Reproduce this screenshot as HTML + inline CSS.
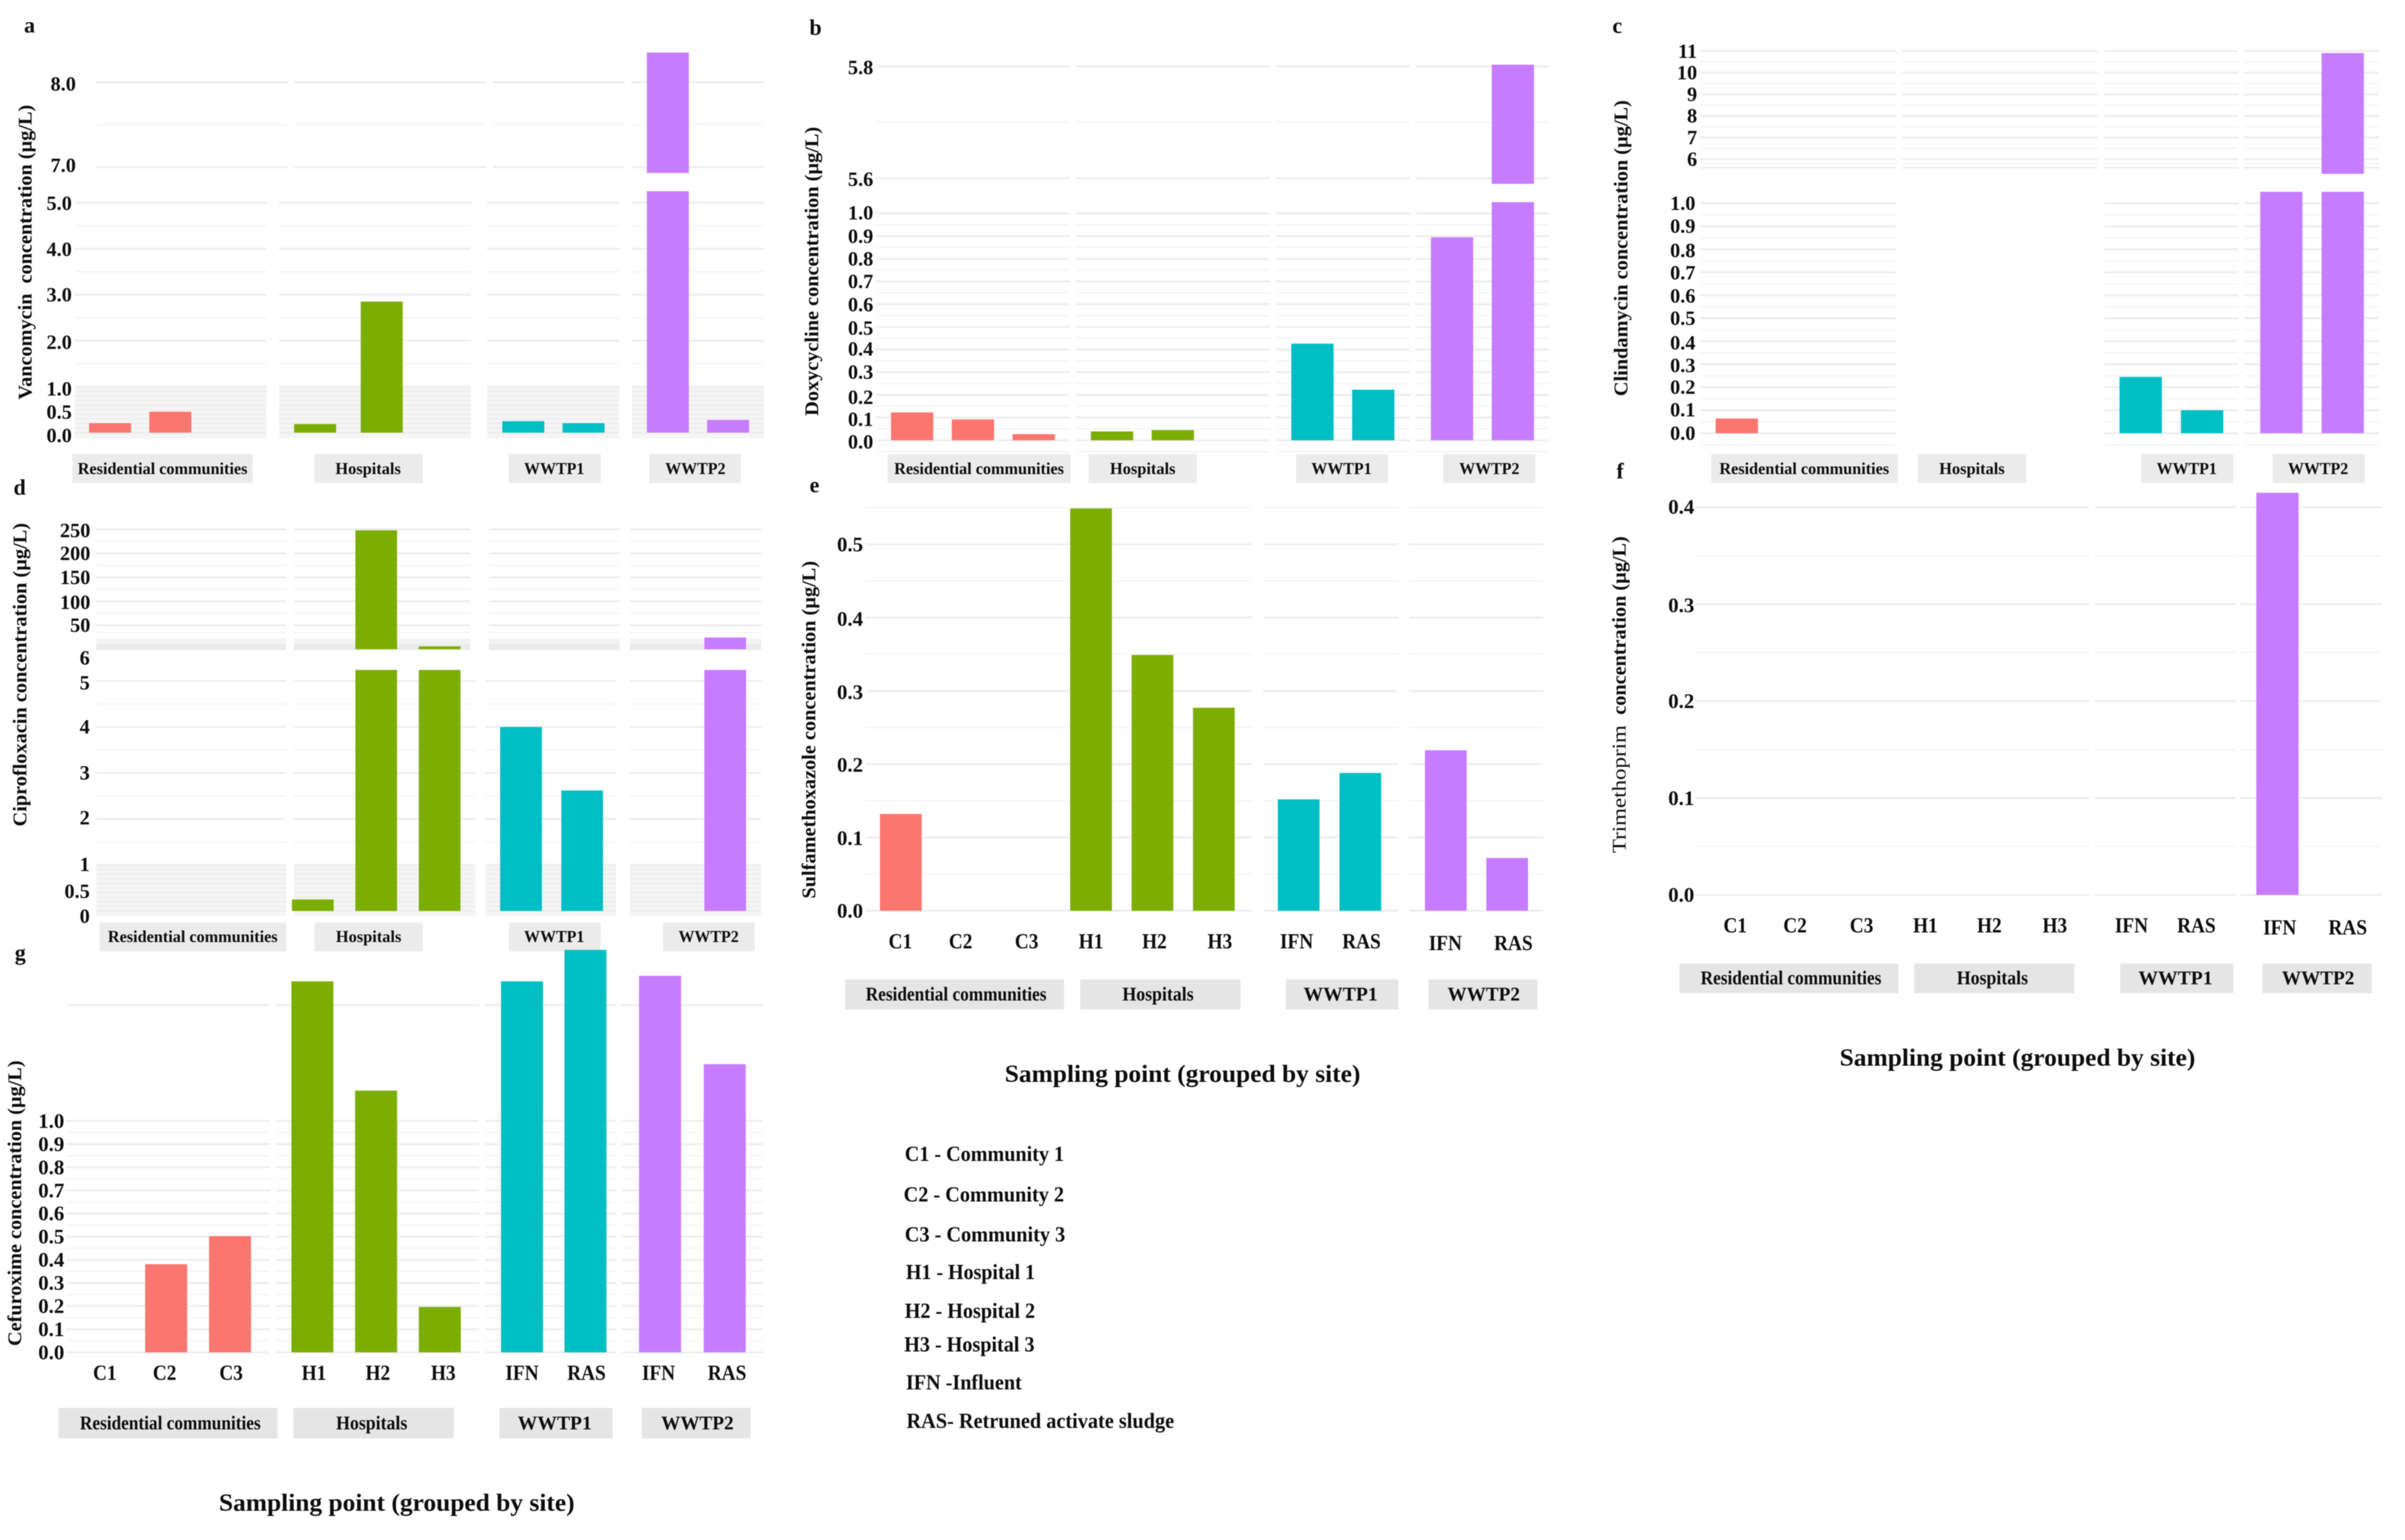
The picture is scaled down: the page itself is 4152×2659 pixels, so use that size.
<!DOCTYPE html>
<html lang="en">
<head>
<meta charset="utf-8">
<title>Antibiotic concentrations by sampling point</title>
<style>
html,body{margin:0;padding:0;background:#fff;width:4152px;height:2659px;overflow:hidden}
svg{display:block;filter:blur(0.7px)}
text{font-family:"Liberation Serif","Noto Serif CJK SC",serif;font-weight:bold;fill:#0d0d0d}
</style>
</head>
<body>
<svg id="fig" xmlns="http://www.w3.org/2000/svg" width="4152" height="2659" viewBox="0 0 4152 2659">
  <rect x="0" y="0" width="4152" height="2659" fill="#ffffff"/>

  <g font-size="38">
    <text x="51" y="44" text-anchor="middle" dominant-baseline="central">a</text>
    <text x="1408" y="48" text-anchor="middle" dominant-baseline="central">b</text>
    <text x="2792" y="45" text-anchor="middle" dominant-baseline="central">c</text>
    <text x="34" y="842" text-anchor="middle" dominant-baseline="central">d</text>
    <text x="1406" y="838" text-anchor="middle" dominant-baseline="central">e</text>
    <text x="2797" y="814" text-anchor="middle" dominant-baseline="central">f</text>
    <text x="35" y="1646" text-anchor="middle" dominant-baseline="central">g</text>
  </g>

  <g id="panels"></g>

  <g font-size="34">
    <text transform="translate(44,435.5) rotate(-90)" text-anchor="middle" dominant-baseline="central" textLength="509" lengthAdjust="spacingAndGlyphs">Vancomycin&#160;&#160;concentration (µg/L)</text>
    <text transform="translate(1402,468.5) rotate(-90)" text-anchor="middle" dominant-baseline="central" textLength="499" lengthAdjust="spacingAndGlyphs">Doxycycline concentration (µg/L)</text>
    <text transform="translate(2799,428.5) rotate(-90)" text-anchor="middle" dominant-baseline="central" textLength="511" lengthAdjust="spacingAndGlyphs">Clindamycin concentration (µg/L)</text>
    <text transform="translate(35,1165) rotate(-90)" text-anchor="middle" dominant-baseline="central" textLength="524" lengthAdjust="spacingAndGlyphs">Ciprofloxacin concentration (µg/L)</text>
    <text transform="translate(1397,1260) rotate(-90)" text-anchor="middle" dominant-baseline="central" textLength="583" lengthAdjust="spacingAndGlyphs">Sulfamethoxazole concentration (µg/L)</text>
    <text transform="translate(2796,1362.5) rotate(-90)" text-anchor="middle" dominant-baseline="central" textLength="221" lengthAdjust="spacingAndGlyphs" style="font-weight:normal">Trimethoprim</text>
    <text transform="translate(2796,1080) rotate(-90)" text-anchor="middle" dominant-baseline="central" textLength="308" lengthAdjust="spacingAndGlyphs">concentration (µg/L)</text>
    <text transform="translate(26,2077.5) rotate(-90)" text-anchor="middle" dominant-baseline="central" textLength="493" lengthAdjust="spacingAndGlyphs">Cefuroxime concentration (µg/L)</text>
  </g>

  <g font-size="42">
    <text x="2041.6" y="1855" text-anchor="middle" dominant-baseline="central" textLength="614" lengthAdjust="spacingAndGlyphs">Sampling point (grouped by site)</text>
    <text x="3483" y="1827" text-anchor="middle" dominant-baseline="central" textLength="614" lengthAdjust="spacingAndGlyphs">Sampling point (grouped by site)</text>
    <text x="685" y="2595.5" text-anchor="middle" dominant-baseline="central" textLength="614" lengthAdjust="spacingAndGlyphs">Sampling point (grouped by site)</text>
  </g>

  <g font-size="37">
    <text x="1562" y="1993" dominant-baseline="central" textLength="275" lengthAdjust="spacingAndGlyphs">C1 - Community 1</text>
    <text x="1560" y="2063" dominant-baseline="central" textLength="277" lengthAdjust="spacingAndGlyphs">C2 - Community 2</text>
    <text x="1562" y="2132" dominant-baseline="central" textLength="277" lengthAdjust="spacingAndGlyphs">C3 - Community 3</text>
    <text x="1564" y="2197" dominant-baseline="central" textLength="223" lengthAdjust="spacingAndGlyphs">H1 - Hospital 1</text>
    <text x="1562" y="2264" dominant-baseline="central" textLength="225" lengthAdjust="spacingAndGlyphs">H2 - Hospital 2</text>
    <text x="1561" y="2322" dominant-baseline="central" textLength="225" lengthAdjust="spacingAndGlyphs">H3 - Hospital 3</text>
    <text x="1564" y="2387.5" dominant-baseline="central" textLength="200" lengthAdjust="spacingAndGlyphs">IFN -Influent</text>
    <text x="1565" y="2454" dominant-baseline="central" textLength="462" lengthAdjust="spacingAndGlyphs">RAS- Retruned activate sludge</text>
  </g>
</svg>

<script>
// ---------- shared categories ----------
const stripLabels = ["Residential communities", "Hospitals", "WWTP1", "WWTP2"];
const categoryLabels = [["C1", "C2", "C3"], ["H1", "H2", "H3"], ["IFN", "RAS"], ["IFN", "RAS"]];
const siteColors = ["#fb766f", "#7cae00", "#00bfc4", "#c77cff"];

// ---------- series values (one inner array per site) ----------
const vancomycinValues = [[0.207, 0.455, 0], [0.186, 2.85, 0], [0.25, 0.207], [8.35, 0.276]];
const doxycyclineValues = [[0.123, 0.092, 0.027], [0.039, 0.045, 0], [0.426, 0.223], [0.895, 5.803]];
const clindamycinValues = [[0.064, 0, 0], [0, 0, 0], [0.245, 0.1], [1.5, 10.91]];
const ciprofloxacinValues = [[0, 0, 0], [0.25, 248, 6], [4.0, 2.62], [0, 24.5]];
const sulfamethoxazoleValues = [[0.132, 0, 0], [0.549, 0.349, 0.277], [0.152, 0.188], [0.219, 0.072]];
const trimethoprimValues = [[0, 0, 0], [0, 0, 0], [0, 0], [0.415, 0]];
const cefuroximeValues = [[0, 0.381, 0.502], [1.603, 1.131, 0.196], [1.603, 1.739], [1.627, 1.245]];

// ---------- tick values and labels ----------
const vancomycinUpperTicks = [7, 8];
const vancomycinUpperLabels = ["7.0", "8.0"];
const vancomycinLowerTicks = [0, 0.5, 1, 2, 3, 4, 5];
const vancomycinLowerLabels = ["0.0", "0.5", "1.0", "2.0", "3.0", "4.0", "5.0"];
const doxycyclineUpperTicks = [5.6, 5.8];
const doxycyclineUpperLabels = ["5.6", "5.8"];
const tenthTicks = [0, 0.1, 0.2, 0.3, 0.4, 0.5, 0.6, 0.7, 0.8, 0.9, 1];
const tenthLabels = ["0.0", "0.1", "0.2", "0.3", "0.4", "0.5", "0.6", "0.7", "0.8", "0.9", "1.0"];
const clindamycinUpperTicks = [6, 7, 8, 9, 10, 11];
const clindamycinUpperLabels = ["6", "7", "8", "9", "10", "11"];
const ciprofloxacinUpperTicks = [50, 100, 150, 200, 250];
const ciprofloxacinUpperLabels = ["50", "100", "150", "200", "250"];
const ciprofloxacinLowerTicks = [0, 0.5, 1, 2, 3, 4, 5, 5.5];
const ciprofloxacinLowerLabels = ["0", "0.5", "1", "2", "3", "4", "5", "6"];
const sulfamethoxazoleTicks = [0, 0.1, 0.2, 0.3, 0.4, 0.5];
const sulfamethoxazoleLabels = ["0.0", "0.1", "0.2", "0.3", "0.4", "0.5"];
const trimethoprimTicks = [0, 0.1, 0.2, 0.3, 0.4];
const trimethoprimLabels = ["0.0", "0.1", "0.2", "0.3", "0.4"];

// ---------- helpers ----------
const NS = "http://www.w3.org/2000/svg";
function el(tag, attrs, parent) {
  const n = document.createElementNS(NS, tag);
  for (const k in attrs) n.setAttribute(k, attrs[k]);
  parent.appendChild(n);
  return n;
}
function steps(from, to, step) {
  const out = [];
  const count = Math.round((to - from) / step);
  for (let i = 0; i <= count; i++) out.push(+(from + i * step).toFixed(4));
  return out;
}
function linearScale(domain, range) {
  const k = (range[1] - range[0]) / (domain[1] - domain[0]);
  return function (v) { return range[0] + (v - domain[0]) * k; };
}

const MAJOR = "#ededed";
const MINOR = "#f3f3f3";
const root = document.getElementById("panels");

function drawSegment(g, panel, seg, values) {
  const y = linearScale(seg.domain, seg.range);

  (seg.bands || []).forEach(function (b) {
    seg.facets.forEach(function (f) {
      const band = el("rect", { x: f[0], y: b.top, width: f[1] - f[0], height: b.bottom - b.top, fill: b.fill }, g);
      
      
    });
  });

  seg.facets.forEach(function (f) {
    (seg.fine || []).forEach(function (v) {
      const line = el("line", { x1: f[0], x2: f[1], y1: y(v), y2: y(v), stroke: "#ebebeb", "stroke-width": 2 }, g);
      
      
    });
    seg.minor.forEach(function (v) {
      const line = el("line", { x1: f[0], x2: f[1], y1: y(v), y2: y(v), stroke: MINOR, "stroke-width": 2.2 }, g);
      
      
    });
    seg.major.forEach(function (v) {
      const line = el("line", { x1: f[0], x2: f[1], y1: y(v), y2: y(v), stroke: MAJOR, "stroke-width": 3.4 }, g);
      
      
    });
  });

  values.forEach(function (group, f) {
    group.forEach(function (v, i) {
      if (!(v > seg.clip[0])) return;
      const top = y(Math.min(v, seg.clip[1]));
      const bottom = seg.base !== undefined ? seg.base : y(seg.clip[0]);
      const cx = panel.barStart[f] + i * panel.barStep[f];
      const bar = el("rect", {
        x: cx - panel.barWidth / 2, y: top,
        width: panel.barWidth, height: Math.max(0, bottom - top),
        fill: siteColors[f]
      }, g);
      
      
    });
  });

  seg.ticks.forEach(function (v, i) {
    const shift = seg.labelNudge ? seg.labelNudge[i] : 0;
    const t = el("text", {
      x: seg.labelRight, y: y(v) + shift, "text-anchor": "end",
      "dominant-baseline": "central", "font-size": panel.tickFont
    }, g);
    t.textContent = seg.labels[i];
    
    
  });
}

function drawPanel(panel, values) {
  const g = el("g", {}, root);
  
  

  panel.segments.forEach(function (seg) { drawSegment(g, panel, seg, values); });

  panel.strips.forEach(function (s, i) {
    const box = el("rect", { x: s.left, y: s.top, width: s.right - s.left, height: s.bottom - s.top, fill: panel.stripFill }, g);
    
    
    const label = el("text", {
      x: s.center, y: panel.stripTextY, "text-anchor": "middle", "dominant-baseline": "central",
      "font-size": panel.stripFont, textLength: panel.stripTextWidths[i], lengthAdjust: "spacingAndGlyphs"
    }, g);
    label.textContent = stripLabels[i];
    
    
  });

  if (panel.xLabelX) {
    let n = 0;
    categoryLabels.forEach(function (group, f) {
      group.forEach(function (c) {
        const t = el("text", {
          x: panel.xLabelX[n], y: panel.xLabelY[f], "text-anchor": "middle",
          "dominant-baseline": "central", "font-size": 37
        }, g);
        t.textContent = c;
        
        
        t.setAttribute("textLength", (t.getComputedTextLength() * 0.9).toFixed(1));
        t.setAttribute("lengthAdjust", "spacingAndGlyphs");
        n++;
      });
    });
  }
}

function stripRow(top, bottom, lefts, rights, centers) {
  return lefts.map(function (l, i) {
    return { left: l, right: rights[i], top: top, bottom: bottom, center: centers[i] };
  });
}
const topStripWidths = [293, 113, 104, 104];
const wideStripWidths = [312, 123, 128, 125];

// ---------- panel a ----------
drawPanel({
  name: "panel-a-vancomycin", barWidth: 72.5, tickFont: 35,
  barStart: [190, 544, 903.4, 1153], barStep: [104, 115, 104, 104],
  stripFill: "#ebebeb", stripTextY: 810, stripFont: 28, stripTextWidths: topStripWidths,
  strips: stripRow(784, 834, [125, 543, 878, 1121], [436, 730, 1037, 1279], [280.7, 635.5, 956.8, 1200.5]),
  segments: [
    { domain: [0, 5], range: [747, 350], clip: [0, 5.25], labelRight: 124,
      labelNudge: [5, 4, 4, 3, 0, 1, 1],
      facets: [[129, 460], [482, 813], [841, 1069], [1091, 1319]],
      bands: [{ top: 667, bottom: 757, fill: "#f5f5f5" }],
      fine: steps(0.1, 0.9, 0.1),
      major: [0, 1, 2, 3, 4, 5], minor: [1.5, 2.5, 3.5, 4.5],
      ticks: vancomycinLowerTicks, labels: vancomycinLowerLabels },
    { domain: [7, 8], range: [288.5, 142], clip: [6.93, 8.6], labelRight: 131,
      labelNudge: [-3, 3],
      facets: [[166, 497], [508, 839], [851, 1078], [1091, 1319]],
      major: [7, 8], minor: [7.5],
      ticks: vancomycinUpperTicks, labels: vancomycinUpperLabels }
  ]
}, vancomycinValues);

// ---------- panel b ----------
drawPanel({
  name: "panel-b-doxycycline", barWidth: 73, tickFont: 35,
  barStart: [1574.7, 1919.8, 2265.8, 2506.8], barStep: [105, 105, 105, 105],
  stripFill: "#ebebeb", stripTextY: 810, stripFont: 28, stripTextWidths: topStripWidths,
  strips: stripRow(784, 834, [1532.3, 1879.2, 2237.6, 2491.8], [1848.3, 2066.3, 2396.4, 2650.7], [1690.3, 1972.8, 2316, 2571.2]),
  segments: [
    { domain: [0, 1], range: [760.2, 368.6], clip: [0, 1.05], labelRight: 1507.6,
      labelNudge: [3, 3, 4, 0, -1, 2, 1, 0, 0, 0, -1],
      facets: [[1512, 1846.5], [1857, 2192.5], [2203, 2434.4], [2444, 2674.5]],
      major: steps(0, 1, 0.1), minor: steps(-0.05, 0.95, 0.1),
      ticks: tenthTicks, labels: tenthLabels },
    { domain: [5.6, 5.8], range: [307.7, 114.6], clip: [5.59, 5.9], labelRight: 1507.6,
      labelNudge: [2, 2],
      facets: [[1512, 1846.5], [1857, 2192.5], [2203, 2434.4], [2444, 2674.5]],
      major: [5.6, 5.8], minor: [5.7],
      ticks: doxycyclineUpperTicks, labels: doxycyclineUpperLabels }
  ]
}, doxycyclineValues);

// ---------- panel c ----------
drawPanel({
  name: "panel-c-clindamycin", barWidth: 73, tickFont: 35,
  barStart: [2998.4, 3350, 3695.7, 3938.5], barStep: [106.8, 106, 106, 106],
  stripFill: "#ebebeb", stripTextY: 810, stripFont: 28, stripTextWidths: topStripWidths,
  strips: stripRow(784, 834, [2954.2, 3310.9, 3696.6, 3923.5], [3276.4, 3498, 3855.5, 4082.3], [3114.9, 3404.4, 3775.2, 4002]),
  segments: [
    { domain: [0, 1], range: [748, 351], clip: [0, 1.05], labelRight: 2927,
      labelNudge: [0, -1, 0, 2, 3, 0, 1, 1, 2, 0, 0],
      facets: [[2935.7, 3273], [3633, 3864.3], [3875, 4107]],
      major: steps(0, 1, 0.1), minor: steps(-0.05, 0.95, 0.1),
      ticks: tenthTicks, labels: tenthLabels },
    { domain: [6, 11], range: [274.8, 88.3], clip: [5.32, 12], labelRight: 2930,
      facets: [[2935.7, 3273], [3283.5, 3621.6], [3633, 3864.3], [3875, 4107]],
      major: [5.6, 6, 7, 8, 9, 10, 11], minor: [5.8, 6.5, 7.5, 8.5, 9.5, 10.5],
      ticks: clindamycinUpperTicks, labels: clindamycinUpperLabels }
  ]
}, clindamycinValues);

// ---------- panel d ----------
drawPanel({
  name: "panel-d-ciprofloxacin", barWidth: 72, tickFont: 35,
  barStart: [250, 540, 899.5, 1147], barStep: [105, 109.5, 105.5, 105],
  stripFill: "#ebebeb", stripTextY: 1618, stripFont: 28, stripTextWidths: topStripWidths,
  strips: stripRow(1592.6, 1642.6, [172, 542.9, 878.3, 1144.8], [494.3, 730, 1037, 1302.8], [332.8, 636.4, 956.8, 1223.4]),
  segments: [
    { domain: [0, 5], range: [1572.9, 1175.8], clip: [0, 5.24], labelRight: 155,
      labelNudge: [9, 6, -1, -2, 0, 0, 3, 0],
      facets: [[166, 494], [507.5, 821], [838, 1063.6], [1087.5, 1314]],
      bands: [{ top: 1493.5, bottom: 1582, fill: "#f5f5f5" }],
      fine: steps(0.1, 0.9, 0.1),
      major: [0, 1, 2, 3, 4, 5], minor: [1.5, 2.5, 3.5, 4.5],
      ticks: ciprofloxacinLowerTicks, labels: ciprofloxacinLowerLabels },
    { domain: [0, 250], range: [1121, 914], clip: [5.24, 260], base: 1121, labelRight: 156,
      labelNudge: [0, 2, 0, 0, 2],
      facets: [[166, 494], [507.5, 812], [844, 1070], [1087.5, 1314]],
      bands: [{ top: 1102, bottom: 1122.6, fill: "#f3f3f3" }, { top: 1112, bottom: 1122.6, fill: "#ebebeb" }],
      major: [50, 100, 150, 200, 250], minor: [35, 75, 125, 175, 225],
      ticks: ciprofloxacinUpperTicks, labels: ciprofloxacinUpperLabels }
  ]
}, ciprofloxacinValues);

// ---------- panel e ----------
drawPanel({
  name: "panel-e-sulfamethoxazole", barWidth: 72, tickFont: 36,
  barStart: [1555.2, 1883.6, 2242, 2496], barStep: [106, 106, 106.5, 106],
  stripFill: "#e5e5e5", stripTextY: 1717, stripFont: 34, stripTextWidths: wideStripWidths,
  strips: stripRow(1691, 1743, [1459, 1865, 2219.9, 2466.2], [1836.8, 2141.3, 2414, 2654.2], [1650.6, 1999.2, 2314.4, 2561.5]),
  xLabelX: [1554.4, 1658.5, 1772.4, 1883.6, 1993, 2106, 2238.5, 2350.5, 2495.3, 2612.7],
  xLabelY: [1626, 1626, 1626, 1629],
  segments: [
    { domain: [0, 0.5], range: [1572.5, 939.8], clip: [0, 0.6], labelRight: 1490,
      labelNudge: [0, 1, 1, 2, 2, 0],
      facets: [[1494.3, 2160.8], [2181, 2414], [2432.6, 2664]],
      major: steps(0, 0.5, 0.1), minor: steps(0.05, 0.55, 0.1),
      ticks: sulfamethoxazoleTicks, labels: sulfamethoxazoleLabels }
  ]
}, sulfamethoxazoleValues);

// ---------- panel f ----------
drawPanel({
  name: "panel-f-trimethoprim", barWidth: 73, tickFont: 36,
  barStart: [2995, 3324, 3680, 3931.8], barStep: [106, 106, 106, 106],
  stripFill: "#e5e5e5", stripTextY: 1689, stripFont: 34, stripTextWidths: wideStripWidths,
  strips: stripRow(1663.7, 1715, [2899.5, 3304.7, 3660.4, 3905.8], [3277.3, 3581, 3855.5, 4094.7], [3092, 3439.7, 3755.8, 4002]),
  xLabelX: [2995.7, 3099, 3213.8, 3324, 3434.4, 3547.4, 3679.8, 3791.9, 3935.8, 4053.2],
  xLabelY: [1598.5, 1598.5, 1598.5, 1602],
  segments: [
    { domain: [0, 0.4], range: [1545.2, 875.9], clip: [0, 0.5], labelRight: 2925,
      labelNudge: [0, 0, 0, 2, -1],
      facets: [[2927, 3606.6], [3617, 3860.8], [3868, 4112]],
      major: steps(0, 0.4, 0.1), minor: steps(0.05, 0.35, 0.1),
      ticks: trimethoprimTicks, labels: trimethoprimLabels }
  ]
}, trimethoprimValues);

// ---------- panel g ----------
drawPanel({
  name: "panel-g-cefuroxime", barWidth: 72.5, tickFont: 36,
  barStart: [176.5, 539.3, 901.2, 1139.5], barStep: [110.3, 110, 109.5, 111.7],
  stripFill: "#e5e5e5", stripTextY: 2457.6, stripFont: 34, stripTextWidths: wideStripWidths,
  strips: stripRow(2431, 2483.5, [100.6, 506.7, 862.4, 1107.8], [479.3, 783.8, 1057.5, 1295.8], [294, 641.7, 957.7, 1204]),
  xLabelX: [181, 284.2, 399, 542, 652.3, 765.3, 901.2, 1012.5, 1136.9, 1255.2],
  xLabelY: [2370.8, 2370.8, 2370.8, 2370.8],
  segments: [
    { domain: [0, 1], range: [2335, 1935.4], clip: [0, 2], labelRight: 111,
      facets: [[114.8, 465], [475.8, 827], [837.7, 1063.6], [1074, 1317]],
      major: steps(0, 1, 0.1).concat([1.5]), minor: steps(0.05, 0.95, 0.1),
      ticks: tenthTicks, labels: tenthLabels }
  ]
}, cefuroximeValues);
</script>
</body>
</html>
